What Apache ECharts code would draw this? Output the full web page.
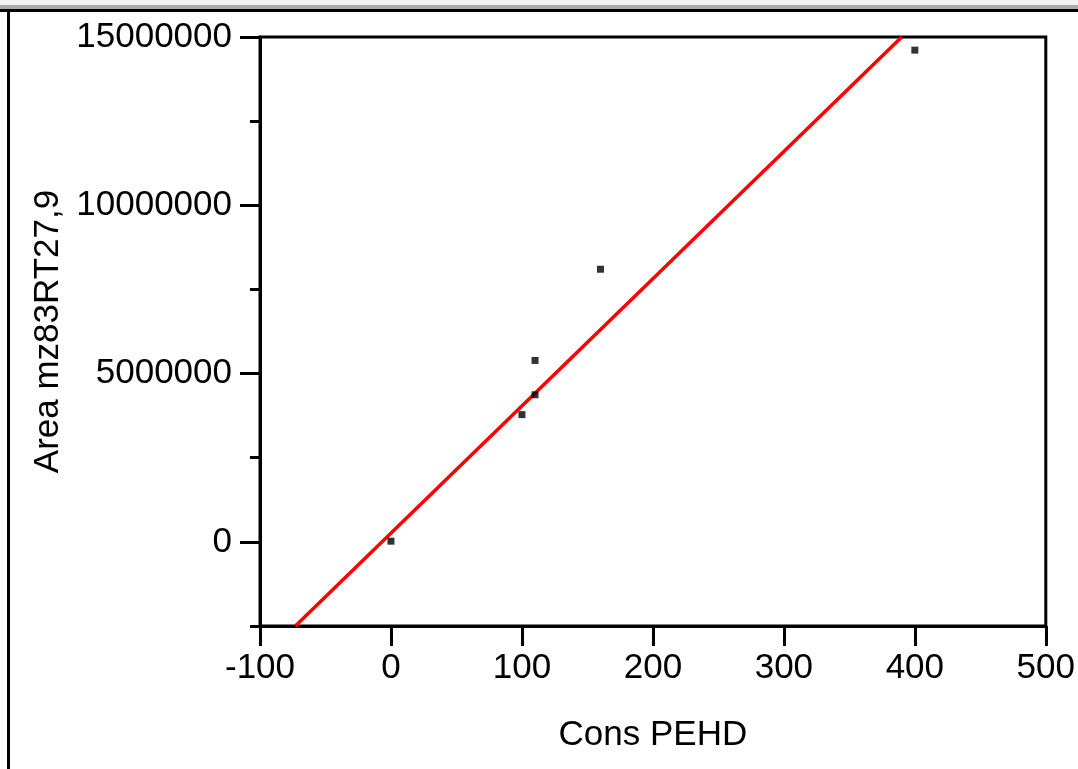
<!DOCTYPE html>
<html>
<head>
<meta charset="utf-8">
<script src="https://cdn.jsdelivr.net/npm/echarts@6/dist/echarts.min.js"></script>
<style>
  html, body { margin: 0; padding: 0; background: #fff; }
  #chart { width: 1078px; height: 769px; }
</style>
</head>
<body>
<div id="chart"></div>
<script>
// measured points (Cons PEHD vs Area)
let consX = [0, 100, 110, 110, 160, 400]
let areaY = [20000, 3780000, 4370000, 5390000, 8100000, 14610000]

// fit line, read where it crosses the plot edges
let fitX = [-73, 390]
let fitY = [-2500000, 15000000]

let yMajor = [0, 5000000, 10000000, 15000000]
let yMinor = [-2500000, 2500000, 7500000, 12500000]

let font = 'Liberation Sans, Arial, sans-serif'
let ink = '#000'
let fs = 35

let chart = echarts.init(document.getElementById('chart'))

let option = {
  backgroundColor: '#fff',
  animation: false,
  graphic: [
    // window frame bits
    { type: 'rect', shape: { x: 0, y: 0, width: 1078, height: 5 }, style: { fill: '#f2f2f2' } },
    { type: 'rect', shape: { x: 0, y: 5, width: 1078, height: 4 }, style: { fill: '#a9a9a9' } },
    { type: 'rect', shape: { x: 0, y: 9, width: 1078, height: 3 }, style: { fill: ink } },
    { type: 'rect', shape: { x: 7, y: 9, width: 3, height: 760 }, style: { fill: ink } }
  ],
  grid: {
    left: 260, top: 37, right: 31, bottom: 143,
    show: true, borderColor: ink, borderWidth: 3, backgroundColor: 'transparent'
  },
  xAxis: {
    type: 'value',
    min: -100, max: 500, interval: 100,
    name: 'Cons PEHD',
    nameLocation: 'middle',
    nameGap: 92,
    nameTextStyle: { color: ink, fontSize: fs, fontFamily: font },
    axisLine: { show: true, onZero: false, lineStyle: { color: ink, width: 3 } },
    axisTick: { show: true, length: 20, lineStyle: { color: ink, width: 3 } },
    axisLabel: { color: ink, fontSize: fs, fontFamily: font, margin: 25 },
    splitLine: { show: false }
  },
  yAxis: [
    {
      type: 'value',
      min: -2500000, max: 15000000, interval: 2500000,
      name: 'Area mz83RT27,9',
      nameLocation: 'middle',
      nameGap: 186,
      nameTextStyle: { color: ink, fontSize: fs, fontFamily: font },
      axisLine: { show: true, onZero: false, lineStyle: { color: ink, width: 3 } },
      axisTick: { show: true, length: 20, customValues: yMajor, lineStyle: { color: ink, width: 3 } },
      axisLabel: {
        color: ink, fontSize: fs, fontFamily: font, margin: 28, customValues: yMajor,
        formatter: v => String(v)
      },
      splitLine: { show: false }
    },
    {
      type: 'value',
      position: 'left',
      min: -2500000, max: 15000000, interval: 2500000,
      axisLine: { show: false, onZero: false },
      axisTick: { show: true, length: 10, customValues: yMinor, lineStyle: { color: ink, width: 3 } },
      axisLabel: { show: false },
      splitLine: { show: false }
    }
  ],
  series: [
    {
      type: 'line',
      data: fitX.map((x, i) => [x, fitY[i]]),
      symbol: 'none',
      lineStyle: { color: '#ff0000', width: 3.5 },
      clip: true,
      z: 3
    },
    {
      type: 'scatter',
      data: consX.map((x, i) => [x, areaY[i]]),
      symbol: 'rect',
      symbolSize: 7,
      itemStyle: { color: ink },
      z: 4
    }
  ]
}

chart.setOption(option)
</script>
</body>
</html>
